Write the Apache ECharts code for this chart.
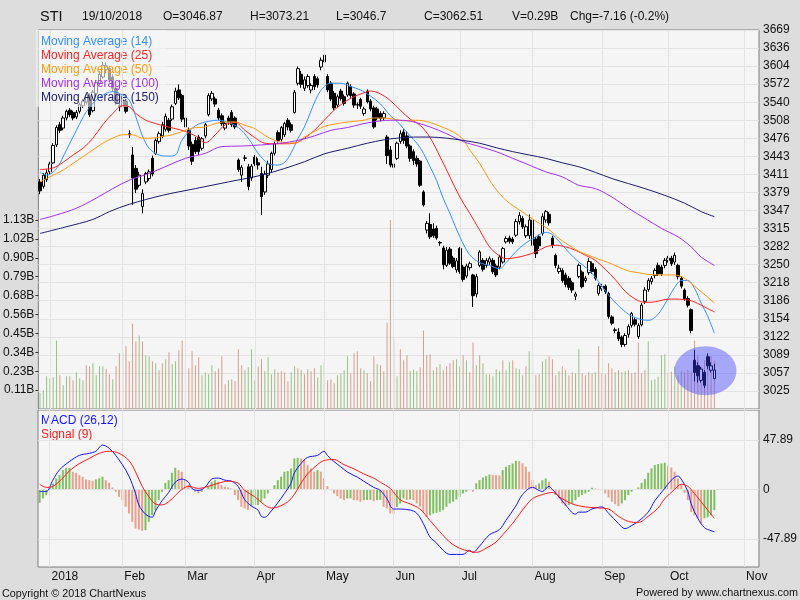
<!DOCTYPE html>
<html><head><meta charset="utf-8">
<script src="https://cdn.jsdelivr.net/npm/echarts@6.0.0/dist/echarts.min.js"></script>
<style>html,body{margin:0;padding:0;background:#dddddd;}#c{width:800px;height:600px;}</style>
</head><body><div id="c"></div>
<script>
// ---------- categories (SGX trading days) ----------
const holidays = ['2018-01-01','2018-02-16','2018-03-30','2018-05-01','2018-05-29','2018-06-15','2018-08-09','2018-08-22','2018-11-06'];
const dates = [];
for (let t = Date.UTC(2017, 11, 27); t <= Date.UTC(2018, 10, 8); t += 86400000) {
  const d = new Date(t), wd = d.getUTCDay(), s = d.toISOString().slice(0, 10);
  if (wd === 0 || wd === 6 || holidays.includes(s)) continue;
  dates.push(s);
}
const monthNames = ['YEAR','Feb','Mar','Apr','May','Jun','Jul','Aug','Sep','Oct','Nov','Dec'];

// ---------- tick labels ----------
const priceTickLabels = ['3025','3057','3089','3122','3154','3186','3218','3250','3282','3315','3347','3379','3411','3443','3476','3508','3540','3572','3604','3636','3669'];
const volTickLabels = ['0.11B','0.23B','0.34B','0.45B','0.56B','0.68B','0.79B','0.90B','1.02B','1.13B'];
const macdTickLabels = ['47.89','0','-47.89'];
const macdTickValues = [47.89, 0, -47.89];

// ---------- header ----------
const headerItems = ['19/10/2018','O=3046.87','H=3073.21','L=3046.7','C=3062.51','V=0.29B','Chg=-7.16 (-0.2%)'];

// ---------- candles [open, close, low, high] ----------
const ohlc = [
[3398,3382,3376,3403],[3390,3410,3386,3414],[3402,3414,3398,3420],[3416,3430,3412,3434],[3432,3463,3430,3467],
[3464,3495,3460,3499],[3500,3490,3485,3505],[3494,3512,3490,3516],[3512,3524,3508,3527],[3526,3518,3514,3530],
[3522,3512,3508,3525],[3514,3522,3510,3526],[3524,3536,3520,3539],[3534,3542,3530,3546],[3540,3553,3536,3556],
[3552,3518,3514,3556],[3525,3558,3522,3562],[3556,3575,3552,3580],[3574,3590,3570,3596],[3585,3606,3582,3612],
[3598,3605,3592,3611],[3600,3580,3575,3604],[3585,3565,3560,3590],[3565,3540,3535,3568],[3532,3534,3524,3540],
[3545,3532,3528,3550],[3542,3524,3520,3546],[3484,3482,3476,3490],[3446,3405,3357,3460],[3422,3385,3378,3428],
[3392,3410,3388,3416],[3354,3377,3342,3385],[3398,3413,3394,3416],[3404,3416,3400,3420],[3440,3412,3408,3445],
[3449,3472,3446,3476],[3470,3484,3466,3488],[3480,3500,3476,3505],[3492,3515,3488,3520],[3508,3490,3486,3512],
[3510,3532,3507,3536],[3538,3560,3535,3566],[3562,3548,3544,3572],[3552,3510,3505,3555],[3496,3512,3490,3516],
[3490,3462,3455,3495],[3465,3435,3428,3470],[3472,3452,3448,3478],[3478,3452,3446,3482],[3458,3475,3454,3478],
[3480,3500,3476,3503],[3518,3552,3515,3556],[3546,3556,3542,3560],[3546,3537,3532,3550],[3526,3512,3508,3530],
[3516,3502,3498,3520],[3494,3502,3490,3506],[3512,3505,3500,3516],[3522,3500,3496,3526],[3512,3496,3492,3515],
[3437,3420,3416,3440],[3410,3424,3398,3428],[3440,3441,3435,3446],[3425,3390,3383,3430],[3405,3426,3400,3430],
[3442,3430,3426,3446],[3432,3428,3420,3440],[3413,3372,3339,3425],[3380,3412,3375,3418],[3410,3430,3405,3436],
[3420,3449,3415,3452],[3449,3466,3445,3470],[3486,3472,3468,3490],[3474,3495,3470,3498],[3482,3502,3478,3505],
[3508,3496,3490,3512],[3500,3490,3486,3504],[3522,3558,3520,3562],[3574,3600,3570,3604],[3590,3572,3566,3596],
[3565,3580,3560,3586],[3570,3586,3566,3590],[3562,3570,3556,3574],[3586,3568,3562,3590],[3582,3571,3566,3586],
[3603,3615,3597,3620],[3624,3612,3606,3642],[3586,3562,3558,3590],[3574,3546,3542,3578],[3556,3530,3526,3560],
[3535,3550,3530,3554],[3560,3547,3543,3564],[3550,3538,3534,3554],[3553,3574,3550,3577],[3568,3552,3548,3572],
[3555,3535,3530,3558],[3535,3536,3528,3540],[3545,3533,3528,3548],[3520,3528,3516,3532],[3560,3541,3538,3563],
[3542,3528,3524,3546],[3530,3496,3493,3534],[3528,3512,3508,3532],[3520,3511,3506,3524],[3512,3520,3508,3524],
[3478,3445,3430,3482],[3455,3428,3424,3462],[3424,3430,3418,3436],[3440,3467,3437,3470],[3470,3484,3466,3490],
[3487,3472,3466,3492],[3480,3462,3458,3488],[3462,3440,3434,3465],[3452,3436,3428,3456],[3440,3430,3425,3445],
[3435,3392,3389,3437],[3380,3357,3354,3383],[3312,3324,3306,3328],[3322,3300,3296,3342],[3314,3302,3298,3324],
[3315,3298,3295,3320],[3290,3289,3284,3292],[3280,3250,3242,3284],[3249,3276,3246,3282],[3278,3253,3250,3282],
[3262,3247,3244,3266],[3241,3257,3236,3262],[3279,3238,3234,3282],[3246,3224,3220,3250],[3230,3248,3226,3252],
[3245,3252,3240,3256],[3232,3195,3175,3234],[3198,3229,3192,3234],[3249,3273,3246,3276],[3258,3242,3238,3262],
[3249,3258,3245,3262],[3255,3261,3250,3265],[3258,3238,3234,3262],[3248,3232,3228,3252],[3246,3264,3242,3268],
[3255,3279,3252,3282],[3291,3297,3288,3301],[3298,3292,3288,3302],[3296,3291,3287,3300],[3303,3327,3300,3332],
[3327,3338,3322,3344],[3333,3318,3314,3337],[3302,3318,3298,3322],[3302,3330,3296,3340],[3330,3285,3280,3336],
[3296,3270,3262,3300],[3300,3284,3278,3304],[3306,3336,3302,3342],[3330,3345,3325,3348],[3340,3325,3320,3344],
[3298,3286,3280,3302],[3267,3249,3244,3270],[3238,3244,3234,3250],[3240,3222,3218,3244],[3232,3215,3210,3236],
[3226,3210,3205,3230],[3218,3205,3200,3222],[3194,3198,3187,3202],[3229,3249,3226,3252],[3237,3211,3208,3240],
[3222,3226,3218,3230],[3236,3256,3232,3262],[3252,3238,3234,3256],[3242,3226,3222,3246],[3199,3213,3195,3217],
[3207,3212,3203,3216],[3212,3202,3198,3215],[3199,3158,3154,3202],[3157,3146,3142,3160],[3134,3133,3128,3138],
[3130,3118,3114,3137],[3121,3108,3103,3124],[3108,3124,3104,3128],[3126,3140,3120,3144],[3142,3163,3138,3166],
[3152,3144,3140,3156],[3122,3142,3118,3146],[3143,3178,3140,3182],[3185,3205,3180,3210],[3206,3222,3202,3226],
[3220,3226,3215,3230],[3231,3240,3226,3244],[3249,3234,3230,3254],[3246,3234,3230,3250],[3249,3258,3244,3262],
[3258,3262,3254,3266],[3262,3252,3248,3266],[3255,3267,3250,3272],[3249,3229,3224,3252],[3226,3212,3208,3230],
[3205,3190,3186,3208],[3190,3178,3174,3194],[3170,3133,3128,3172],[3080,3058,3042,3098],[3070,3052,3040,3076],
[3044,3064,3040,3068],[3058,3035,3030,3062],[3086,3070,3064,3092],[3062,3069.67,3058,3076],[3046.87,3062.51,3046.7,3073.21]
];

// ---------- volume (millions) and up/down flag ----------
const volumes = [
97,113,197,185,191,411,203,143,197,197, 173,221,185,173,262,256,274,203,256,256,
242,209,179,256,334,334,376,286,511,405, 441,405,322,316,286,274,232,274,298,340,
268,286,352,411,268,244,346,262,310,203, 221,209,262,227,244,316,149,173,179,167,
358,262,232,250,358,173,256,298,227,310, 209,238,221,227,221,167,221,256,244,236,
209,238,227,244,191,262,280,173,179,155, 203,213,232,316,215,334,346,244,232,215,
167,316,268,262,227,519,1133,417,197,358, 292,322,227,235,227,250,471,322,328,232,
250,268,232,256,274,292,298,256,322,292, 221,399,262,322,274,209,209,197,238,227,
292,232,280,292,244,238,203,256,346,292, 203,209,286,298,316,298,203,227,256,232,
203,221,215,358,215,203,221,215,221,376, 215,209,274,244,221,232,221,227,232,215,
221,399,215,232,405,173,179,193,322,328, 215,223,256,203,227,221,232,227,411,322,
256,292,316,316,290
];
const volUp = ('ggggggrggr'+'rgggrrgggg'+'rrgrrgrrrr'+'grggrgrrgr'+'ggrrrrrrrg'+'gggrrrrgrr'+'rrggggrrgg'+'ggrrrrggrg'+'rrrrgggrrr'+'ggggrrrrgr'+
  'rrgrgrrrgr'+'rrgggrrrrg'+'rgrrrrggrg'+'rrgrggrggg'+'rggrgggrgg'+'rrggrrrgrg'+'rrggrrrrgr'+'rrrrgrggrr'+'rrrrgggggg'+'rrgrgrrrrr'+'rrrrr').split('');

// ---------- moving averages [dayIndex, value] ----------
const ma14 = [[0,3416],[2,3410],[5,3422],[8,3455],[11,3490],[14,3523],[17,3544],[20,3556],[22,3559],[25,3553],[27,3544],[29,3514],[31,3480],[33,3458],[36,3446],[39,3444],[41,3446],[43,3473],[47,3498],[51,3506],[54,3508],[57,3504],[60,3495],[63,3476],[66,3449],[69,3431],[72,3428],[74,3433],[76,3450],[78,3475],[80,3496],[82,3525],[84,3552],[86,3568],[88,3574],[91,3574],[94,3568],[97,3562],[100,3551],[103,3537],[106,3516],[108,3506],[110,3493],[112,3480],[114,3467],[116,3449],[118,3425],[120,3400],[122,3368],[124,3342],[127,3300],[130,3268],[133,3254],[136,3249],[139,3243],[141,3254],[144,3274],[147,3289],[150,3300],[153,3308],[155,3304],[157,3292],[160,3272],[163,3255],[166,3241],[169,3220],[172,3196],[175,3177],[178,3162],[181,3154],[184,3151],[186,3156],[188,3170],[190,3190],[192,3210],[194,3222],[196,3222],[198,3208],[200,3182],[202,3158],[204,3128]];
const ma25 = [[0,3420],[4,3423],[7,3433],[10,3446],[13,3458],[16,3476],[19,3500],[22,3520],[25,3534],[27,3532],[29,3520],[32,3508],[35,3502],[38,3497],[41,3493],[44,3488],[47,3480],[50,3468],[53,3482],[56,3500],[59,3504],[62,3490],[65,3477],[68,3467],[71,3466],[74,3466],[77,3467],[80,3476],[83,3490],[86,3508],[89,3526],[92,3540],[95,3550],[98,3557],[100,3560],[103,3555],[106,3543],[109,3526],[112,3510],[115,3499],[118,3477],[121,3443],[124,3407],[127,3371],[130,3342],[133,3312],[136,3282],[139,3266],[141,3261],[144,3263],[147,3267],[150,3273],[153,3282],[156,3285],[159,3282],[162,3276],[165,3267],[168,3258],[171,3242],[174,3224],[177,3203],[180,3189],[183,3183],[186,3184],[189,3188],[192,3189],[195,3188],[197,3186],[199,3181],[202,3172],[204,3166]];
const ma50 = [[0,3398],[3,3407],[7,3419],[10,3431],[13,3443],[16,3455],[19,3467],[22,3476],[25,3482],[28,3482],[31,3476],[34,3476],[37,3479],[40,3482],[43,3488],[46,3494],[50,3496],[53,3502],[56,3505],[59,3505],[62,3499],[65,3493],[68,3481],[71,3472],[74,3468],[77,3467],[80,3478],[83,3488],[86,3497],[89,3501],[92,3504],[95,3506],[98,3508],[101,3512],[104,3512],[107,3510],[110,3507],[113,3508],[116,3507],[119,3502],[122,3495],[125,3487],[128,3474],[130,3455],[133,3431],[136,3401],[139,3377],[142,3360],[145,3348],[148,3336],[151,3324],[154,3313],[157,3297],[160,3285],[163,3274],[166,3267],[169,3260],[172,3254],[175,3246],[178,3239],[181,3236],[184,3233],[187,3232],[191,3232],[194,3229],[197,3217],[200,3202],[203,3187],[204,3182]];
const ma100 = [[0,3331],[5,3339],[11,3351],[17,3369],[22,3386],[27,3401],[33,3413],[39,3428],[44,3440],[50,3449],[55,3461],[61,3462],[67,3464],[73,3467],[78,3472],[83,3480],[88,3490],[93,3495],[98,3502],[103,3507],[106,3508],[109,3508],[113,3505],[118,3496],[123,3484],[128,3470],[133,3461],[138,3452],[143,3440],[148,3428],[153,3416],[158,3407],[163,3392],[168,3386],[173,3371],[178,3351],[183,3333],[188,3315],[193,3300],[197,3282],[200,3264],[204,3249]];
const ma150 = [[0,3306],[8,3318],[16,3331],[21,3345],[27,3358],[37,3374],[47,3386],[57,3398],[67,3410],[74,3422],[80,3434],[86,3448],[93,3458],[99,3467],[104,3473],[108,3476],[113,3478],[118,3478],[123,3476],[128,3472],[133,3467],[138,3459],[143,3452],[148,3446],[153,3440],[158,3432],[163,3425],[168,3415],[173,3404],[178,3395],[183,3386],[189,3374],[195,3360],[200,3345],[204,3336]];

// ---------- MACD ----------
const macdLine = [[0,-2],[2,-2],[4,9],[6,19],[9,27],[12,33],[15,35],[17,37],[19,43],[21,40],[23,33],[25,24],[27,13],[29,-4],[30,-15],[32,-24],[34,-27],[35,-21],[37,-11],[39,-3],[41,7],[43,10],[45,7],[46,1],[48,-1],[50,2],[52,10],[54,11],[56,9],[58,8],[60,3],[62,-10],[64,-16],[66,-20],[67,-26],[68,-27],[70,-21],[72,-13],[74,-4],[76,6],[77,16],[79,25],[81,31],[84,33],[86,37],[87,33],[89,27],[91,22],[93,17],[96,12],[98,8],[101,2],[103,-1],[105,-9],[107,-19],[109,-19],[112,-20],[114,-23],[116,-33],[118,-46],[120,-52],[122,-59],[124,-63],[126,-63],[128,-63],[130,-59],[131,-61],[133,-55],[136,-44],[139,-39],[141,-30],[144,-16],[146,-5],[149,2],[151,-1],[152,-2],[154,3],[155,0],[157,-7],[159,-15],[162,-24],[163,-22],[165,-22],[167,-19],[170,-17],[172,-23],[175,-33],[177,-38],[179,-35],[181,-31],[184,-22],[186,-11],[189,1],[191,9],[193,13],[194,10],[196,-2],[197,-14],[199,-28],[201,-37],[203,-40],[204,-41]];
const signalLine = [[0,5],[2,2],[4,3],[7,11],[9,18],[12,25],[15,30],[18,35],[21,37],[24,35],[27,28],[29,17],[31,3],[33,-7],[35,-14],[37,-15],[39,-12],[41,-6],[43,0],[45,3],[48,1],[51,3],[54,6],[57,8],[60,6],[62,-1],[65,-7],[68,-15],[70,-18],[72,-17],[75,-12],[77,-5],[79,6],[81,15],[84,24],[86,28],[89,29],[92,24],[95,20],[98,15],[101,11],[103,7],[106,1],[109,-10],[112,-14],[115,-19],[118,-30],[121,-41],[124,-51],[127,-57],[130,-60],[132,-61],[135,-57],[138,-51],[140,-44],[143,-33],[146,-20],[149,-9],[152,-5],[155,-3],[158,-9],[161,-14],[165,-17],[169,-18],[172,-19],[175,-26],[178,-31],[181,-32],[184,-26],[187,-18],[189,-9],[192,0],[194,5],[196,3],[198,-4],[200,-12],[202,-20],[204,-28]];
const histogram = [
-13.0,-8.8,-5.5,2.6,5.8,10.7,13.9,18.7,21.0,21.0, 17.1,16.2,13.9,12.3,9.7,9.0,8.4,9.7,10.7,12.3,
9.0,6.4,1.9,-2.3,-7.2,-10.5,-16.9,-23.3,-31.4,-37.9, -38.9,-40.2,-39.5,-31.4,-25.0,-20.1,-10.4,-2.3,6.4,9.0,
16.2,21.0,18.7,17.1,9.0,4.2,0,-2.3,-3.9,-2.3, 0,3.2,7.4,9.0,7.4,4.2,2.6,1.9,0.9,-5.5,
-10.4,-16.9,-18.5,-20.1,-16.2,-15.3,-15.0,-12.0,-8.8,-3.9, 0,4.2,9.0,12.3,17.1,17.8,20.4,30.1,30.7,30.1,
28.5,23.6,20.4,17.1,18.7,17.1,10.7,3.2,-0.7,-3.9, -6.5,-8.8,-10.4,-8.8,-8.6,-10.4,-10.6,-12.0,-10.4,-10.2,
-10.0,-11.4,-10.4,-10.2,-16.9,-18.5,-23.3,-23.5,-17.0,-13.6, -8.8,-10.4,-9.7,-10.4,-13.6,-16.9,-21.7,-26.6,-25.0,-23.3,
-22.7,-21.7,-20.1,-16.9,-13.6,-12.0,-9.7,-7.2,-3.9,-2.3, -0.7,-2.3,5.9,9.0,11.6,12.9,14.5,14.2,13.9,13.6,
18.7,22.0,23.6,25.2,27.8,27.5,25.2,22.0,17.1,9.0, 4.2,5.8,9.0,10.7,7.4,0,-5.5,-8.8,-13.6,-16.2,
-15.3,-13.6,-10.4,-7.2,-5.5,-3.9,-2.3,1.6,0.9,0, -0.7,-3.9,-7.8,-12.0,-14.3,-16.2,-13.6,-10.4,-5.5,-2.3,
0,1.9,6.4,10.0,16.2,20.4,23.6,24.6,25.2,25.9, 22.6,21.3,17.1,10.7,4.2,-3.3,-10.4,-22.0,-25.0,-28.0,
-33.0,-28.0,-27.0,-25.0,-20.1
];

// ---------- styling / layout ----------
const FONT = '"Liberation Sans", Arial, Helvetica, sans-serif';
const GRID_COLOR = '#e3e3e3';
const PLOT_BG = '#f5f5f5';
const BORDER = '#7c7c7c';
const VOL_G = '#97c283', VOL_R = '#d59e8c';
const HIST_G = '#80bf62', HIST_R = '#e9a18b';
const maNames = ['Moving Average (14)','Moving Average (25)','Moving Average (50)','Moving Average (100)','Moving Average (150)'];
const maColors = ['#3391ff','#ff2424','#ff9a0a','#a530f0','#1c1c6e'];
const maData = [ma14, ma25, ma50, ma100, ma150];
const macdNames = ['MACD (26,12)','Signal (9)'];
const macdColors = ['#1414ff','#ff1a1a'];

const priceStep = 32.2;
const priceMin = 3025 - priceStep;
const priceMax = 3669;
const volStep = 113.3;
const volTickValues = volTickLabels.map((_, k) => (k + 1) * volStep);
const volMax = 2272;

const monthStart = dates.map((d, i) => i > 0 && d.slice(0, 7) !== dates[i - 1].slice(0, 7));
const monthIdx = dates.map((d, i) => i).filter(i => monthStart[i]);
const monthLabel = d => { const m = +d.slice(5, 7); return m === 1 ? d.slice(0, 4) : monthNames[m - 1]; };

const chart = echarts.init(document.getElementById('c'), null, { renderer: 'canvas', width: 800, height: 600 });

const markStyle = { silent: true, symbol: ['none', 'none'], label: { show: false }, animation: false,
  lineStyle: { color: GRID_COLOR, type: 'solid', width: 1 }, emphasis: { disabled: true } };

const series = [
  { name: 'Volume', type: 'bar', xAxisIndex: 0, yAxisIndex: 1, barWidth: 1, z: 1,
    data: volumes.map((v, i) => ({ value: v, itemStyle: { color: volUp[i] === 'g' ? VOL_G : VOL_R } })),
    markLine: Object.assign({}, markStyle, { data: monthIdx.map(i => ({ xAxis: dates[i] })) }) },
  { name: 'STI', type: 'candlestick', xAxisIndex: 0, yAxisIndex: 0, barWidth: 3, z: 2, data: ohlc,
    itemStyle: { color: '#ffffff', color0: '#000000', borderColor: '#000000', borderColor0: '#000000', borderWidth: 1 } }
];
maData.forEach((d, k) => series.push({ name: maNames[k], type: 'line', xAxisIndex: 0, yAxisIndex: 0, data: d,
  smooth: 0.35, showSymbol: false, z: 5, lineStyle: { color: maColors[k], width: 1 }, itemStyle: { color: maColors[k] } }));
series.push({ name: 'Histogram', type: 'bar', xAxisIndex: 1, yAxisIndex: 2, barWidth: 2, z: 2,
  data: histogram.map((v, i) => ({ value: v, itemStyle: { color: (i === 0 || v >= histogram[i - 1]) ? HIST_G : HIST_R } })),
  markLine: Object.assign({}, markStyle, { data: monthIdx.map(i => ({ xAxis: dates[i] })).concat(macdTickValues.map(v => ({ yAxis: v }))) }) });
[macdLine, signalLine].forEach((d, k) => series.push({ name: macdNames[k], type: 'line', xAxisIndex: 1, yAxisIndex: 2, data: d,
  smooth: 0.35, showSymbol: false, z: 5, lineStyle: { color: macdColors[k], width: 1 }, itemStyle: { color: macdColors[k] } }));

const headerX = [82, 163, 250, 336, 424, 512, 570];
const graphics = [
  { type: 'text', id: 'ttl', x: 40, y: 17, silent: true, style: { text: 'STI', fontSize: 14.5, fontFamily: FONT, fill: '#111', verticalAlign: 'middle' } },
  { type: 'text', id: 'cpy', x: 2, y: 594, silent: true, style: { text: 'Copyright \u00a9 2018 ChartNexus', fontSize: 10.8, fontFamily: FONT, fill: '#111', verticalAlign: 'middle' } },
  { type: 'text', id: 'pwr', x: 798, y: 593, silent: true, style: { text: 'Powered by www.chartnexus.com', fontSize: 10.8, fontFamily: FONT, fill: '#111', align: 'right', verticalAlign: 'middle' } }
].concat(headerItems.map((t, k) => ({ type: 'text', id: 'h' + k, x: headerX[k], y: 17, silent: true,
  style: { text: t, fontSize: 12, fontFamily: FONT, fill: '#111', verticalAlign: 'middle' } })));

const option = {
  animation: false,
  backgroundColor: '#dddddd',
  textStyle: { fontFamily: FONT },
  grid: [
    { left: 38, top: 30, width: 721, height: 379, show: true, backgroundColor: PLOT_BG, borderColor: BORDER, borderWidth: 1 },
    { left: 38, top: 410, width: 721, height: 157, show: true, backgroundColor: PLOT_BG, borderColor: BORDER, borderWidth: 1 }
  ],
  xAxis: [
    { type: 'category', gridIndex: 0, data: dates, boundaryGap: true, axisLine: { show: false }, axisTick: { show: false }, axisLabel: { show: false }, splitLine: { show: false } },
    { type: 'category', gridIndex: 1, data: dates, boundaryGap: true, axisLine: { show: false },
      axisTick: { show: true, alignWithLabel: true, interval: i => monthStart[i], length: 16, lineStyle: { color: '#8c8c8c' } },
      axisLabel: { interval: i => monthStart[i], formatter: v => monthLabel(v), align: 'left', padding: [0, 0, 0, 2], margin: 4, fontSize: 12, color: '#111' },
      splitLine: { show: false } }
  ],
  yAxis: [
    { type: 'value', gridIndex: 0, position: 'right', min: priceMin, max: priceMax, interval: priceStep,
      axisLine: { show: false }, axisTick: { show: false },
      axisLabel: { margin: 4, fontSize: 12, color: '#111', formatter: v => { const k = Math.round((v - priceMin) / priceStep) - 1; return (k >= 0 && k < priceTickLabels.length) ? priceTickLabels[k] : ''; } },
      splitLine: { show: true, lineStyle: { color: GRID_COLOR, width: 1 } } },
    { type: 'value', gridIndex: 0, position: 'left', min: 0, max: volMax,
      axisLine: { show: false },
      axisTick: { show: true, length: 3, customValues: volTickValues, lineStyle: { color: '#333' } },
      axisLabel: { customValues: volTickValues, margin: 4, fontSize: 12, color: '#111', formatter: v => volTickLabels[Math.round(v / volStep) - 1] || '' },
      splitLine: { show: false } },
    { type: 'value', gridIndex: 1, position: 'right', min: -75.2, max: 77.0,
      axisLine: { show: false }, axisTick: { show: false },
      axisLabel: { customValues: macdTickValues, margin: 4, fontSize: 12, color: '#111', formatter: v => { const k = macdTickValues.findIndex(t => Math.abs(t - v) < 0.01); return k >= 0 ? macdTickLabels[k] : ''; } },
      splitLine: { show: false } }
  ],
  legend: [
    { orient: 'vertical', left: 36, top: 30, padding: [5, 8, 3, 0], itemGap: 1, itemWidth: 0, itemHeight: 14, icon: 'none', selectedMode: false,
      backgroundColor: 'rgba(245,245,245,0.62)', z: 4,
      textStyle: { fontSize: 12, fontFamily: FONT },
      data: maNames.map((n, k) => ({ name: n, textStyle: { color: maColors[k] } })) },
    { orient: 'vertical', left: 36, top: 414, padding: [0, 4, 0, 0], itemGap: 1, itemWidth: 0, itemHeight: 14, icon: 'none', selectedMode: false,
      textStyle: { fontSize: 12, fontFamily: FONT },
      data: macdNames.map((n, k) => ({ name: n, textStyle: { color: macdColors[k] } })) }
  ],
  series: series,
  graphic: graphics
};
chart.setOption(option);

// highlight ellipse around the latest candles (positioned through the axes)
const c = chart.convertToPixel({ xAxisIndex: 0, yAxisIndex: 0 }, [dates[201], 3061]);
chart.setOption({ graphic: graphics.concat([{ type: 'ellipse', id: 'hl', z: 100, silent: true,
  shape: { cx: c[0] + 1, cy: c[1], rx: 31, ry: 24.5 }, style: { fill: 'rgba(60,60,255,0.42)' } }]) });
</script></body></html>
